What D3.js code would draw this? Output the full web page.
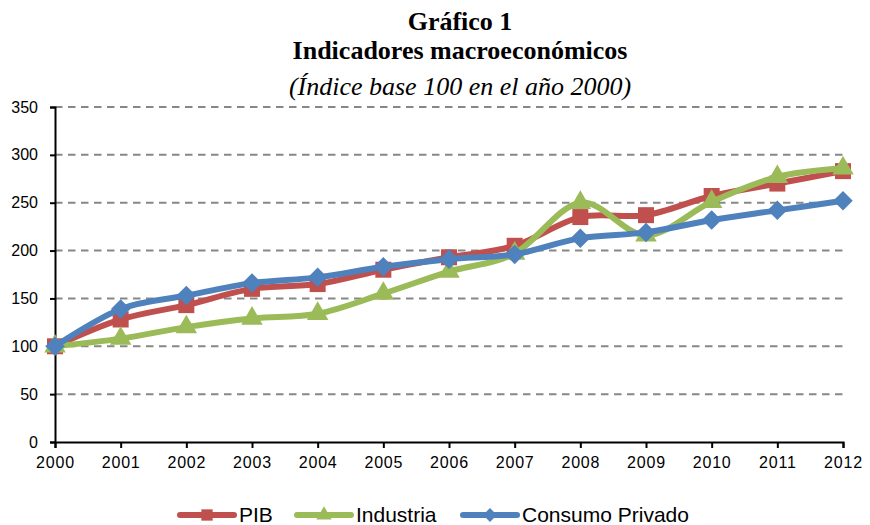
<!DOCTYPE html>
<html><head><meta charset="utf-8">
<script src="https://cdn.jsdelivr.net/npm/d3@7"></script>
<style>body{margin:0;background:#fff}svg{display:block}</style>
</head><body><svg id="c" width="870" height="525"></svg>
<script>
const years = [2000,2001,2002,2003,2004,2005,2006,2007,2008,2009,2010,2011,2012];
const pib = [100,128,143,160,165,180,193,205,235,237,257,270,283];
const industria = [100,108,120,129,134,155,178,197,250,216,251,277,286];
const consumo = [100,139,153,166,172,183,191,196,213,219,232,242,252];
const yTicks = [0,50,100,150,200,250,300,350];
const titles = ["Gráfico 1","Indicadores macroeconómicos","(Índice base 100 en el año 2000)"];
const seriesNames = ["PIB","Industria","Consumo Privado"];
const colors = ["#C0504D","#9BBB59","#4F81BD"];

const svg = d3.select("#c");
const x = d3.scaleLinear().domain([2000,2012]).range([55,843]);
const y = d3.scaleLinear().domain([0,350]).range([442,107]);

// titles
const tf = ["bold 26px 'Liberation Serif', serif","bold 26px 'Liberation Serif', serif","italic 26px 'Liberation Serif', serif"];
const ty = [30,59,95];
titles.forEach((t,i)=>svg.append("text").attr("x",460).attr("y",ty[i]).attr("text-anchor","middle")
  .style("font",tf[i]).attr("fill","#000").text(t));

// grid
svg.append("g").selectAll("line").data(yTicks.filter(d=>d>0)).join("line")
  .attr("x1",55).attr("x2",843).attr("y1",d=>y(d)).attr("y2",d=>y(d))
  .attr("stroke","#878787").attr("stroke-width",2).attr("stroke-dasharray","7.5,5.5");

// axes
const ya = svg.append("g").attr("transform","translate(55,0)")
  .call(d3.axisLeft(y).tickValues(yTicks).tickSize(5).tickPadding(6));
const xa = svg.append("g").attr("transform","translate(0,442)")
  .call(d3.axisBottom(x).tickValues(years).tickFormat(d3.format("d")).tickSize(6).tickPadding(9));
[ya,xa].forEach(a=>{
  a.select(".domain").attr("stroke","#000").attr("stroke-width",2);
  a.selectAll(".tick line").attr("stroke","#000").attr("stroke-width",2);
  a.selectAll("text").style("font","16px 'Liberation Sans', Arial, sans-serif").attr("fill","#000");
});
ya.selectAll(".tick text").attr("x",-17);
xa.selectAll(".tick text").style("letter-spacing","0.8px");

const data = [pib, industria, consumo];
const line = d3.line().x((d,i)=>x(years[i])).y(d=>y(d)).curve(d3.curveCardinal.tension(0));
const diamond = {draw(ctx,size){const r=Math.sqrt(size/2);ctx.moveTo(0,-r);ctx.lineTo(r,0);ctx.lineTo(0,r);ctx.lineTo(-r,0);ctx.closePath();}};
const symbols = [d3.symbolSquare, d3.symbolTriangle, diamond];
const sizes = [256, 200, 190];

data.forEach((s,k)=>{
  const g = svg.append("g");
  g.append("path").datum(s).attr("d",line).attr("fill","none")
    .attr("stroke",colors[k]).attr("stroke-width",6).attr("stroke-linejoin","round").attr("stroke-linecap","round");
  g.selectAll("path.m").data(s).join("path").attr("class","m")
    .attr("transform",(d,i)=>`translate(${x(years[i])},${y(d)})`)
    .attr("d",d3.symbol().type(symbols[k]).size(sizes[k])).attr("fill",colors[k]);
});

// legend
const legX = [180,297,463];
const leg = svg.append("g");
seriesNames.forEach((n,k)=>{
  leg.append("line").attr("x1",legX[k]).attr("x2",legX[k]+54).attr("y1",515).attr("y2",515)
    .attr("stroke",colors[k]).attr("stroke-width",6).attr("stroke-linecap","round");
  leg.append("path").attr("transform",`translate(${legX[k]+27},515)`)
    .attr("d",d3.symbol().type(symbols[k]).size(sizes[k]*0.5)).attr("fill",colors[k]);
  leg.append("text").attr("x",legX[k]+59).attr("y",522)
    .style("font","21px 'Liberation Sans', Arial, sans-serif").attr("fill","#000").text(n);
});
</script></body></html>
